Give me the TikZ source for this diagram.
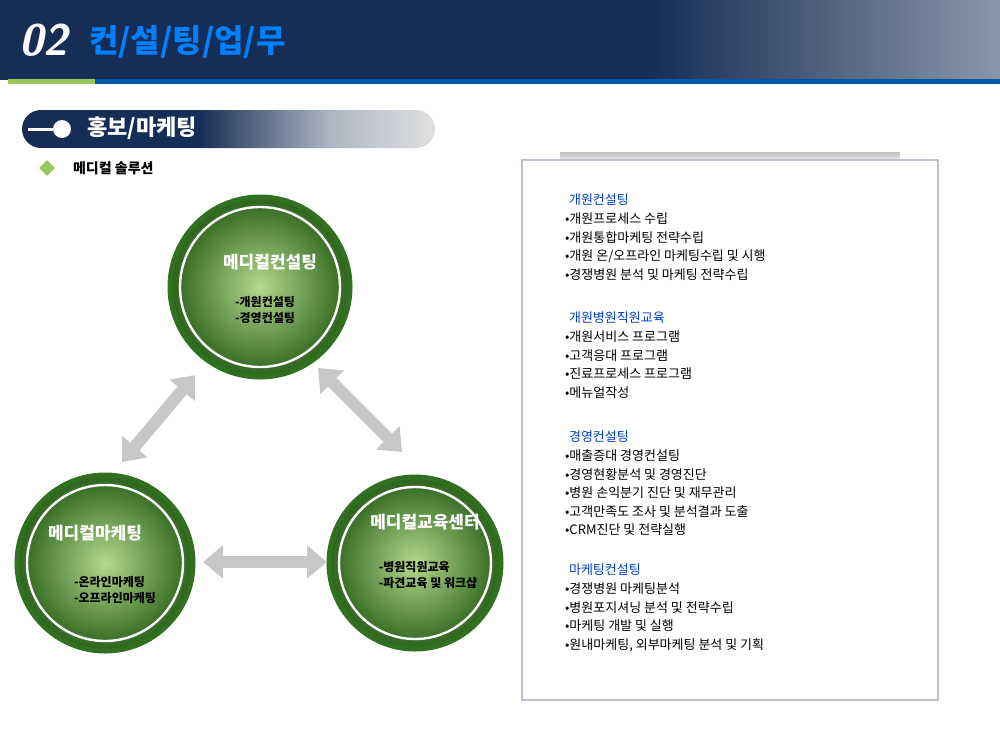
\documentclass[tikz,border=0pt]{standalone}
\usepackage{fontspec}
\newfontfamily\kr{Noto Sans CJK KR}
\newcommand\krb{\kr\bfseries}
\usetikzlibrary{arrows.meta,shadings,shapes.geometric}
\definecolor{navy}{RGB}{22,45,85}
\definecolor{gr}{RGB}{60,140,40}
\definecolor{lg}{RGB}{150,200,90}
\tikzset{
 circ/.style={circle,minimum size=#1,draw=gr!80!black,line width=2.5pt,inner color=lg!70!white,outer color=gr!70!black},
 ring/.style={circle,minimum size=#1,draw=white,line width=1.2pt},
 dbl/.style={{Triangle[width=16pt,length=10pt]}-{Triangle[width=16pt,length=10pt]},line width=6pt,draw=black!22},
 ttl/.style={font=\krb\fontsize{8.5}{10}\selectfont,text=white},
 sub/.style={font=\krb\fontsize{6}{8}\selectfont,align=left},
 hd/.style={font=\kr\fontsize{6.5}{8}\selectfont,text=blue!50!teal},
 it/.style={font=\kr\fontsize{6.5}{9.2}\selectfont,align=left,anchor=north west}
}
\begin{document}
\begin{tikzpicture}[x=0.5pt,y=-0.5pt]
\useasboundingbox (0,0) rectangle (1000,750);
\fill[white] (0,0) rectangle (1000,750);
\fill[navy] (0,0) rectangle (650,80);
\shade[left color=navy,right color=navy!50!white] (650,0) rectangle (1000,80);
\fill[lg] (8,79) rectangle (95,84);
\fill[teal!70!blue] (95,79) rectangle (1000,84);
\node[anchor=west,font=\sffamily\bfseries\itshape\fontsize{22}{24}\selectfont,text=white] (num) at (12,40) {02};
\node[anchor=west,font=\krb\fontsize{16}{18}\selectfont,text=blue!50!cyan] (title) at (82,42) {컨/설/팅/업/무};
% pill
\begin{scope}
\clip[rounded corners=9.5pt] (22,110) rectangle (435,148);
\fill[navy] (22,110) rectangle (200,148);
\shade[left color=navy,right color=navy!35!white] (199,110) rectangle (330,148);
\shade[left color=navy!35!white,right color=black!12] (329,110) rectangle (435,148);
\end{scope}
\coordinate (pl) at (28,129);
\node[circle,fill=white,minimum size=9pt,inner sep=0] (dot) at (62,129) {};
\draw[white,line width=1.5pt] (pl) -- (dot);
\node[anchor=west,font=\krb\fontsize{11}{13}\selectfont,text=white] (sec) at (80,128) {홍보/마케팅};
\node[diamond,fill=lg,minimum size=8pt,inner sep=0] (dia) at (47,168) {};
\node[anchor=west,font=\krb\fontsize{7}{9}\selectfont] (sol) at (66,168) {메디컬 솔루션};
% panel
\shade[top color=black!25,bottom color=white] (560,152) rectangle (900,164);
\draw[draw=blue!25!black!25,line width=1pt,fill=white] (522,160) rectangle (938,700);
\node[hd,anchor=west] (h1) at (562,200) {개원컨설팅};
\node[it] (l1) at (558,206) {•개원프로세스 수립\\•개원통합마케팅 전략수립\\•개원 온/오프라인 마케팅수립 및 시행\\•경쟁병원 분석 및 마케팅 전략수립};
\node[hd,anchor=west] (h2) at (562,318) {개원병원직원교육};
\node[it] (l2) at (558,324) {•개원서비스 프로그램\\•고객응대 프로그램\\•진료프로세스 프로그램\\•메뉴얼작성};
\node[hd,anchor=west] (h3) at (562,437) {경영컨설팅};
\node[it] (l3) at (558,443) {•매출증대 경영컨설팅\\•경영현황분석 및 경영진단\\•병원 손익분기 진단 및 재무관리\\•고객만족도 조사 및 분석결과 도출\\•CRM진단 및 전략실행};
\node[hd,anchor=west] (h4) at (562,570) {마케팅컨설팅};
\node[it] (l4) at (558,576) {•경쟁병원 마케팅분석\\•병원포지셔닝 분석 및 전략수립\\•마케팅 개발 및 실행\\•원내마케팅, 외부마케팅 분석 및 기획};
% circles
\node[circ=90pt] (c1) at (260,287) {};
\node[ring=80pt] at (c1) {};
\node[circ=88pt] (c2) at (105,563) {};
\node[ring=78pt] at (c2) {};
\node[circ=86pt] (c3) at (415,563) {};
\node[ring=76pt] at (c3) {};
\node[ttl] (t1) at (270,262) {메디컬컨설팅};
\node[sub] (s1) at (265,310) {-개원컨설팅\\-경영컨설팅};
\node[ttl] (t2) at (95,533) {메디컬마케팅};
\node[sub] (s2) at (115,590) {-온라인마케팅\\-오프라인마케팅};
\node[ttl] (t3) at (425,522) {메디컬교육센터};
\node[sub] (s3) at (428,575) {-병원직원교육\\-파견교육 및 워크샵};
\coordinate (a1) at (195,375); \coordinate (a2) at (122,462);
\coordinate (b1) at (318,368); \coordinate (b2) at (402,452);
\coordinate (d1) at (203,562); \coordinate (d2) at (327,562);
\draw[dbl] (a1) -- (a2);
\draw[dbl] (b1) -- (b2);
\draw[dbl] (d1) -- (d2);
\end{tikzpicture}
\end{document}
